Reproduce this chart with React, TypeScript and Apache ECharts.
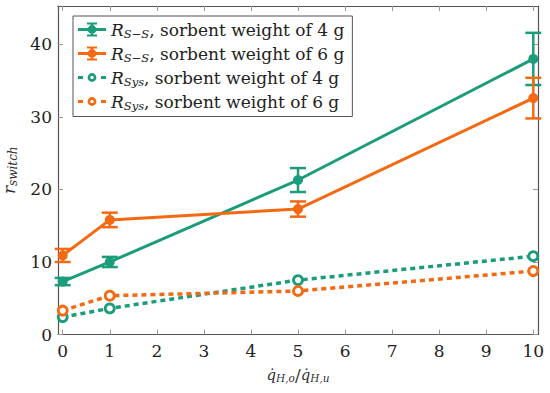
import React, { useEffect, useRef } from "react";
import * as echarts from "echarts";

const xValues = [0, 1, 5, 10];
const rss4 = [7.3, 10.0, 21.3, 38.0];
const rss4Err = [0.5, 0.7, 1.65, 3.6];
const rss6 = [10.9, 15.8, 17.3, 32.6];
const rss6Err = [0.9, 1.0, 1.05, 2.8];
const rsys4 = [2.4, 3.6, 7.5, 10.8];
const rsys6 = [3.3, 5.35, 6.0, 8.75];
const xTicks = [0, 1, 2, 3, 4, 5, 6, 7, 8, 9, 10];
const yTicks = [0, 10, 20, 30, 40];
const seriesNames = [
  "R_S-S, sorbent weight of 4 g",
  "R_S-S, sorbent weight of 6 g",
  "R_Sys, sorbent weight of 4 g",
  "R_Sys, sorbent weight of 6 g",
];

const GREEN = "#1b9c7a";
const ORANGE = "#f46a12";
const FRAME = "#555555";
const FONT = "DejaVu Serif";

const solidIcon =
  "path://M0,5.5h28v3h-28z M12.7,0h2.6v14h-2.6z M9,0h10v2h-10z M9,12h10v2h-10z M9.6,7a4.4,4.4 0 1,1 8.8,0a4.4,4.4 0 1,1 -8.8,0z M0,0h0.01v0.01h-0.01z M27.99,13.99h0.01v0.01h-0.01z";
const dashIcon =
  "path://M0,5.5h5v3h-5z M23,5.5h5v3h-5z M9.6,7a4.4,4.4 0 1,1 8.8,0a4.4,4.4 0 1,1 -8.8,0z M12.3,7a1.7,1.7 0 1,0 3.4,0a1.7,1.7 0 1,0 -3.4,0z M0,0h0.01v0.01h-0.01z M27.99,13.99h0.01v0.01h-0.01z";

function errData(vals: number[], errs: number[]) {
  return xValues.map((x, i) => [x, vals[i], errs[i]]);
}
function lineData(vals: number[]) {
  return xValues.map((x, i) => [x, vals[i]]);
}

function errorSeries(name: string, color: string, vals: number[], errs: number[]) {
  return {
    type: "custom",
    name,
    clip: false,
    z: 3,
    color,
    itemStyle: { color },
    encode: { x: 0, y: 1 },
    data: errData(vals, errs),
    renderItem: (params: any, api: any) => {
      const x = api.value(0);
      const y = api.value(1);
      const e = api.value(2);
      const top = api.coord([x, y + e]);
      const bot = api.coord([x, y - e]);
      const hw = 8;
      const style = { stroke: color, lineWidth: 2.5 };
      return {
        type: "group",
        children: [
          { type: "line", shape: { x1: top[0], y1: top[1], x2: bot[0], y2: bot[1] }, style },
          { type: "line", shape: { x1: top[0] - hw, y1: top[1], x2: top[0] + hw, y2: top[1] }, style },
          { type: "line", shape: { x1: bot[0] - hw, y1: bot[1], x2: bot[0] + hw, y2: bot[1] }, style },
        ],
      };
    },
  };
}

const rich = {
  i: { fontFamily: FONT, fontStyle: "italic", fontSize: 17, color: "#222" },
  s: { fontFamily: FONT, fontStyle: "italic", fontSize: 11.5, color: "#222", padding: [8, 0, 0, 0] },
  n: { fontFamily: FONT, fontSize: 17, color: "#222" },
};

function legendFormatter(name: string) {
  const m = name.match(/^R_([^,]+),(.*)$/);
  if (!m) return name;
  const sub = m[1].replace("-", "−");
  return `{i|R}{s|${sub}}{n|,${m[2]}}`;
}

export default function App() {
  const ref = useRef<HTMLDivElement>(null);
  useEffect(() => {
    if (!ref.current) return;
    const chart = echarts.init(ref.current, null, { renderer: "svg" });
    const axisCommon = {
      axisLine: { show: true, onZero: false, lineStyle: { color: FRAME, width: 1.2 } },
      splitLine: { show: false },
    };
    chart.setOption({
      animation: false,
      backgroundColor: "#ffffff",
      textStyle: { fontFamily: FONT },
      grid: { left: 58, right: 12, top: 6, bottom: 58.5, containLabel: false, outerBoundsMode: "none" },
      legend: {
        orient: "vertical",
        left: 73,
        top: 16,
        itemWidth: 28,
        itemHeight: 14,
        itemGap: 5.5,
        padding: [5, 8, 5, 5],
        borderColor: FRAME,
        borderWidth: 1,
        backgroundColor: "#fff",
        data: [
          { name: seriesNames[0], icon: solidIcon, itemStyle: { color: GREEN, borderWidth: 0 } },
          { name: seriesNames[1], icon: solidIcon, itemStyle: { color: ORANGE, borderWidth: 0 } },
          { name: seriesNames[2], icon: dashIcon, itemStyle: { color: GREEN, borderWidth: 0 } },
          { name: seriesNames[3], icon: dashIcon, itemStyle: { color: ORANGE, borderWidth: 0 } },
        ],
        formatter: legendFormatter,
        textStyle: { fontFamily: FONT, fontSize: 17, color: "#222", rich },
      },
      xAxis: [
        {
          type: "value",
          min: -0.1,
          max: 10.1,
          position: "bottom",
          ...axisCommon,
          axisTick: { show: true, inside: true, length: 5, customValues: xTicks, lineStyle: { color: "#999" } },
          axisLabel: { show: true, customValues: xTicks, margin: 8, fontFamily: FONT, fontSize: 17, color: "#222" },
          name: "{i|q̇}{s|H,o}{n|/}{i|q̇}{s|H,u}",
          nameLocation: "middle",
          nameGap: 31,
          nameTextStyle: {
            rich: {
              i: { fontFamily: FONT, fontStyle: "italic", fontSize: 15, color: "#333" },
              s: { fontFamily: FONT, fontStyle: "italic", fontSize: 10.5, color: "#333", padding: [7, 0, 0, 0] },
              n: { fontFamily: FONT, fontSize: 17, color: "#333" },
            },
          },
        },
        {
          type: "value",
          min: -0.1,
          max: 10.1,
          position: "top",
          ...axisCommon,
          axisTick: { show: true, inside: true, length: 5, customValues: xTicks, lineStyle: { color: "#999" } },
          axisLabel: { show: false },
        },
      ],
      yAxis: [
        {
          type: "value",
          min: 0,
          max: 45.3,
          position: "left",
          ...axisCommon,
          axisTick: { show: true, inside: true, length: 5, customValues: yTicks, lineStyle: { color: "#999" } },
          axisLabel: { show: true, customValues: yTicks, margin: 6, fontFamily: FONT, fontSize: 17, color: "#222" },
          name: "{i|r}{s|switch}",
          nameLocation: "middle",
          nameRotate: 90,
          nameGap: 27,
          nameTextStyle: {
            rich: {
              i: { fontFamily: FONT, fontStyle: "italic", fontSize: 17, color: "#333" },
              s: { fontFamily: FONT, fontStyle: "italic", fontSize: 12, color: "#333", padding: [8, 0, 0, 0] },
            },
          },
        },
        {
          type: "value",
          min: 0,
          max: 45.3,
          position: "right",
          ...axisCommon,
          axisTick: { show: true, inside: true, length: 5, customValues: yTicks, lineStyle: { color: "#999" } },
          axisLabel: { show: false },
        },
      ],
      series: [
        errorSeries(seriesNames[0], GREEN, rss4, rss4Err),
        errorSeries(seriesNames[1], ORANGE, rss6, rss6Err),
        {
          type: "line",
          name: seriesNames[0],
          data: lineData(rss4),
          color: GREEN,
          z: 4,
          symbol: "circle",
          symbolSize: 10,
          lineStyle: { width: 3, color: GREEN },
          itemStyle: { color: GREEN },
        },
        {
          type: "line",
          name: seriesNames[1],
          data: lineData(rss6),
          color: ORANGE,
          z: 4,
          symbol: "circle",
          symbolSize: 10,
          lineStyle: { width: 3, color: ORANGE },
          itemStyle: { color: ORANGE },
        },
        {
          type: "line",
          name: seriesNames[2],
          data: lineData(rsys4),
          color: GREEN,
          z: 4,
          symbol: "circle",
          symbolSize: 9,
          lineStyle: { width: 3.5, color: GREEN, type: [5, 4] },
          itemStyle: { color: "#fff", borderColor: GREEN, borderWidth: 2.8 },
        },
        {
          type: "line",
          name: seriesNames[3],
          data: lineData(rsys6),
          color: ORANGE,
          z: 4,
          symbol: "circle",
          symbolSize: 9,
          lineStyle: { width: 3.5, color: ORANGE, type: [5, 4] },
          itemStyle: { color: "#fff", borderColor: ORANGE, borderWidth: 2.8 },
        },
      ],
    });
    return () => chart.dispose();
  }, []);
  return <div ref={ref} style={{ width: 550, height: 393, position: "absolute", left: 0, top: 0 }} />;
}
